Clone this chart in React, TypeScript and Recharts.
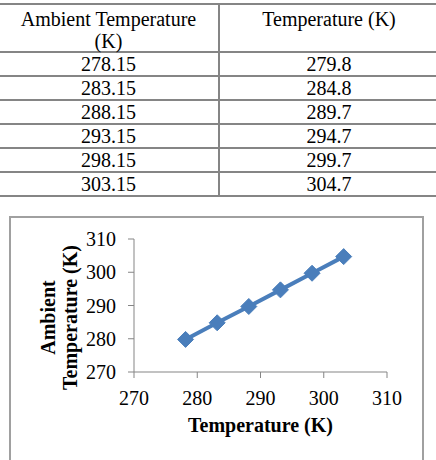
import React from "react";
import { LineChart, Line, XAxis, YAxis } from "recharts";

const headerLeft = ["Ambient Temperature", "(K)"];
const headerRight = ["Temperature (K)"];
const ambient = ["278.15", "283.15", "288.15", "293.15", "298.15", "303.15"];
const measured = ["279.8", "284.8", "289.7", "294.7", "299.7", "304.7"];

const xValues = [278.15, 283.15, 288.15, 293.15, 298.15, 303.15];
const yValues = [279.8, 284.8, 289.7, 294.7, 299.7, 304.7];
const axisTicks = [270, 280, 290, 300, 310];

const data = xValues.map((x, i) => ({ x, y: yValues[i] }));

const FONT = "Liberation Serif";
const FS = 20;
const BLUE = "#4a7ebb";
const LINE_GRAY = "#858585";

const Diamond = (props: any) => {
  const { cx, cy } = props;
  if (cx == null || cy == null) return null;
  const r = 8;
  return (
    <path
      d={`M${cx},${cy - r} L${cx + r},${cy} L${cx},${cy + r} L${cx - r},${cy} Z`}
      fill={BLUE}
      stroke={BLUE}
      strokeWidth={1}
    />
  );
};

const YLabel = (props: any) => {
  const vb = props.viewBox || { x: 0, y: 0, width: 0, height: 0 };
  const cy = vb.y + vb.height / 2 + 12;
  return (
    <g>
      <text
        x={48}
        y={cy}
        transform={`rotate(-90 48 ${cy})`}
        textAnchor="middle"
        dominantBaseline="central"
        fontFamily={FONT}
        fontWeight="bold"
        fontSize={FS}
        fill="#000"
      >
        Ambient
      </text>
      <text
        x={70}
        y={cy}
        transform={`rotate(-90 70 ${cy})`}
        textAnchor="middle"
        dominantBaseline="central"
        fontFamily={FONT}
        fontWeight="bold"
        fontSize={FS}
        fill="#000"
      >
        Temperature (K)
      </text>
    </g>
  );
};

const XLabel = (props: any) => {
  const vb = props.viewBox || { x: 0, y: 0, width: 0, height: 0 };
  const cx = vb.x + vb.width / 2;
  return (
    <text
      x={cx}
      y={432}
      textAnchor="middle"
      fontFamily={FONT}
      fontWeight="bold"
      fontSize={FS}
      fill="#000"
    >
      Temperature (K)
    </text>
  );
};

const Table = () => {
  const rowTop = 52;
  const rowH = 24;
  const hLines = [4, 52, ...ambient.map((_, i) => rowTop + rowH * (i + 1))];
  const headerY = [26, 48];
  return (
    <svg width={436} height={200} style={{ position: "absolute", left: 0, top: 0 }}>
      {hLines.map((y, i) => (
        <line key={i} x1={0} x2={436} y1={y} y2={y} stroke={LINE_GRAY} strokeWidth={2} />
      ))}
      <line x1={219} x2={219} y1={4} y2={196} stroke={LINE_GRAY} strokeWidth={2} />
      <g style={{ fontFamily: FONT, fontSize: FS }} fill="#000" textAnchor="middle">
        {headerLeft.map((t, i) => (
          <text key={"hl" + i} x={108.5} y={headerY[i]}>
            {t}
          </text>
        ))}
        {headerRight.map((t, i) => (
          <text key={"hr" + i} x={329} y={headerY[i]}>
            {t}
          </text>
        ))}
        {ambient.map((t, i) => (
          <text key={"a" + i} x={108.5} y={70.7 + i * rowH}>
            {t}
          </text>
        ))}
        {measured.map((t, i) => (
          <text key={"m" + i} x={329} y={70.7 + i * rowH}>
            {t}
          </text>
        ))}
      </g>
    </svg>
  );
};

export default function App() {
  return (
    <div
      style={{
        position: "absolute",
        left: 0,
        top: 0,
        width: 436,
        height: 460,
        background: "#fff",
        overflow: "hidden",
        fontFamily: FONT,
      }}
    >
      <Table />
      <div
        style={{
          position: "absolute",
          left: 9,
          top: 216,
          width: 415,
          height: 250,
          border: "2px solid #a0a0a0",
          boxSizing: "border-box",
        }}
      />
      <div style={{ position: "absolute", left: 0, top: 0 }}>
        <LineChart
          width={436}
          height={460}
          data={data}
          margin={{ top: 239, right: 49, bottom: 58, left: 74 }}
          style={{ fontFamily: FONT }}
        >
          <XAxis
            type="number"
            dataKey="x"
            domain={[270, 310]}
            ticks={axisTicks}
            allowDataOverflow
            height={30}
            stroke={LINE_GRAY}
            tickSize={6}
            tickMargin={13}
            tick={{ fill: "#000", fontFamily: FONT, fontSize: FS }}
            label={<XLabel />}
          />
          <YAxis
            type="number"
            dataKey="y"
            domain={[270, 310]}
            ticks={axisTicks}
            allowDataOverflow
            width={60}
            stroke={LINE_GRAY}
            tickSize={6}
            tickMargin={12}
            tick={{ fill: "#000", fontFamily: FONT, fontSize: FS }}
            label={<YLabel />}
          />
          <Line
            type="linear"
            dataKey="y"
            stroke={BLUE}
            strokeWidth={4}
            dot={<Diamond />}
            activeDot={false}
            isAnimationActive={false}
          />
        </LineChart>
      </div>
    </div>
  );
}
